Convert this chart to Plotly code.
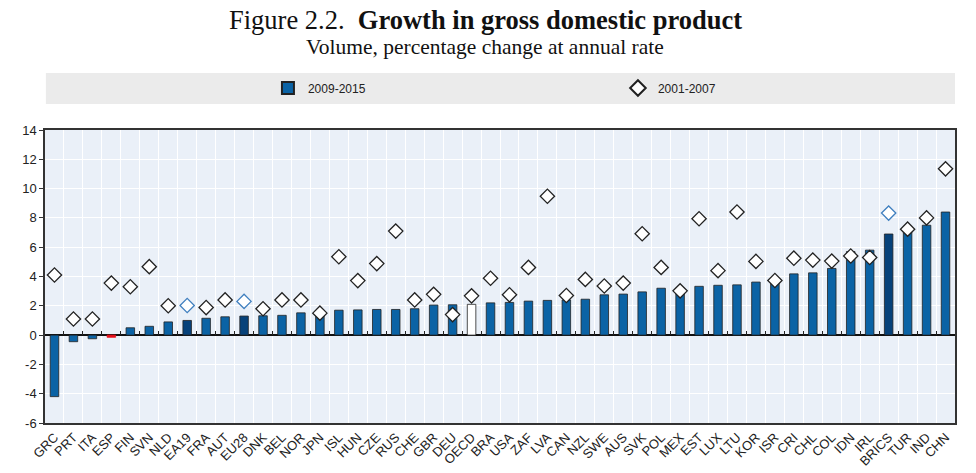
import plotly.graph_objects as go

countries = ["GRC","PRT","ITA","ESP","FIN","SVN","NLD","EA19","FRA","AUT","EU28","DNK","BEL","NOR","JPN",
             "ISL","HUN","CZE","RUS","CHE","GBR","DEU","OECD","BRA","USA","ZAF","LVA","CAN","NZL","SWE",
             "AUS","SVK","POL","MEX","EST","LUX","LTU","KOR","ISR","CRI","CHL","COL","IDN","IRL","BRICS",
             "TUR","IND","CHN"]
growth_2009_2015 = [-4.2,-0.45,-0.25,-0.15,0.5,0.6,0.9,1.0,1.15,1.25,1.3,1.32,1.35,1.52,1.45,
                    1.7,1.72,1.75,1.75,1.8,2.05,2.07,2.1,2.2,2.23,2.32,2.37,2.4,2.45,2.75,
                    2.8,2.95,3.2,3.0,3.33,3.4,3.43,3.62,3.7,4.18,4.25,4.55,5.7,5.8,6.9,
                    7.25,7.5,8.4]
growth_2001_2007 = [4.1,1.1,1.1,3.55,3.3,4.67,2.0,2.02,1.88,2.4,2.3,1.8,2.4,2.4,1.5,
                    5.35,3.72,4.88,7.1,2.4,2.78,1.4,2.68,3.88,2.75,4.62,9.48,2.7,3.8,3.35,
                    3.55,6.92,4.62,3.02,7.94,4.4,8.4,5.03,3.73,5.25,5.12,5.05,5.4,5.3,8.33,
                    7.23,8.0,11.35]
y_tick_values = [-6, -4, -2, 0, 2, 4, 6, 8, 10, 12, 14]
y_tick_labels = ["-6", "-4", "-2", "0", "2", "4", "6", "8", "10", "12", "14"]

BLUE = "#0b63a5"
DARK = "#07427a"
aggregates_dark = {"EA19", "EU28", "BRICS"}

bar_colors = []
for c in countries:
    if c == "ESP":
        bar_colors.append("#e8101b")
    elif c == "OECD":
        bar_colors.append("#ffffff")
    elif c in aggregates_dark:
        bar_colors.append(DARK)
    else:
        bar_colors.append(BLUE)
bar_line = ["#e8101b" if c == "ESP" else "#222222" for c in countries]
dia_line = ["#3f7fbf" if c in aggregates_dark else "#222222" for c in countries]

fig = go.Figure()
fig.add_trace(go.Bar(
    x=countries, y=growth_2009_2015, name="2009-2015",
    marker=dict(color=bar_colors, line=dict(color=bar_line, width=0.8)),
    width=0.45,
))
fig.add_trace(go.Scatter(
    x=countries, y=growth_2001_2007, name="2001-2007", mode="markers",
    marker=dict(symbol="diamond", size=11, color="white", line=dict(color=dia_line, width=1.3)),
))
# invisible trace for the zero-line tick axis
fig.add_trace(go.Scatter(x=countries, y=[0]*len(countries), xaxis="x2", mode="markers",
                         marker=dict(opacity=0), showlegend=False, hoverinfo="skip"))

W, H = 976, 473
T, B, L, R = 130, 50, 45, 21
PLOT_H = H - T - B

def py(px_from_top):
    """screen pixel row -> paper y"""
    return (H - B - px_from_top) / PLOT_H

fig.update_layout(
    width=W, height=H,
    margin=dict(l=L, r=R, t=T, b=B, autoexpand=False),
    paper_bgcolor="white",
    plot_bgcolor="#eaf0f8",
    font=dict(family="Liberation Sans, Arial, sans-serif", size=13, color="#222222"),
    showlegend=True,
    legend=dict(orientation="h", x=0.245, xanchor="left", y=py(88), yanchor="middle",
                bgcolor="rgba(0,0,0,0)", entrywidth=305, entrywidthmode="pixels",
                font=dict(size=12, color="#222222"), itemsizing="constant"),
    xaxis=dict(type="category", categoryorder="array", categoryarray=countries,
               tickson="boundaries", showgrid=True, gridcolor="white", gridwidth=1.2,
               ticks="", tickangle=-45, tickfont=dict(size=13),
               showline=True, linecolor="#333333", linewidth=1.5, mirror=True,
               range=[-0.5, len(countries) - 0.5]),
    xaxis2=dict(type="category", overlaying="x", matches="x", anchor="free", position=0.3,
                side="bottom", tickson="boundaries", ticks="inside", ticklen=4,
                tickcolor="#222222", tickwidth=1.2, showticklabels=False, showgrid=False,
                showline=False, zeroline=False),
    yaxis=dict(range=[-6, 14], tickmode="array", tickvals=y_tick_values, ticktext=y_tick_labels,
               showgrid=True, gridcolor="white", gridwidth=1.2,
               zeroline=True, zerolinecolor="#111111", zerolinewidth=2,
               ticks="outside", ticklen=4, tickcolor="#333333", tickfont=dict(size=13),
               showline=True, linecolor="#333333", linewidth=1.5, mirror=True),
    bargap=0.5,
    shapes=[dict(type="rect", xref="paper", yref="paper", x0=0.001, x1=1.0, y0=py(104), y1=py(73),
                 fillcolor="#ebebeb", line=dict(width=0), layer="below")],
    annotations=[
        dict(text="Figure 2.2.  <b>Growth in gross domestic product</b>", xref="paper", yref="paper",
             x=(485 - L) / (W - L - R), y=py(20), xanchor="center", yanchor="middle", showarrow=False,
             font=dict(family="Liberation Serif, Times New Roman, serif", size=26.5, color="#111111")),
        dict(text="Volume, percentage change at annual rate", xref="paper", yref="paper",
             x=(485 - L) / (W - L - R), y=py(47), xanchor="center", yanchor="middle", showarrow=False,
             font=dict(family="Liberation Serif, Times New Roman, serif", size=21.5, color="#111111")),
    ],
)

fig.write_html("out.html", post_script="document.body.style.margin='0';",
               config={"displayModeBar": False})
